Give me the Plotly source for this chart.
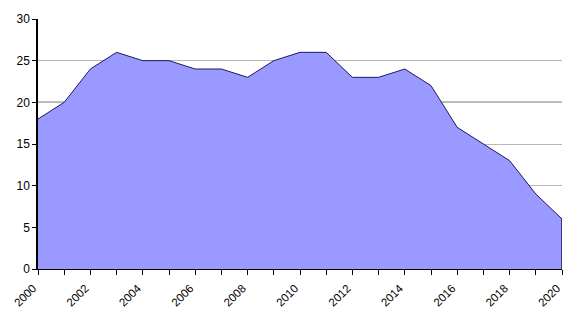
import plotly.graph_objects as go

years = list(range(2000, 2021))
values = [18, 20, 24, 26, 25, 25, 24, 24, 23, 25, 26, 26, 23, 23, 24, 22, 17, 15, 13, 9, 6]
year_labels = [str(y) if y % 2 == 0 else "" for y in years]
y_ticks = [0, 5, 10, 15, 20, 25, 30]

fig = go.Figure()
fig.add_trace(go.Scatter(
    x=years, y=values, mode="lines", fill="tozeroy",
    fillcolor="#9999FF", line=dict(color="#1a1a5e", width=1),
    hoverinfo="skip", showlegend=False,
))

# reference line at 20 (drawn below the area)
fig.add_shape(type="line", xref="paper", x0=0, x1=1, yref="y", y0=20, y1=20,
              line=dict(color="black", width=1.2), layer="below")
# right edge of the area
fig.add_shape(type="line", xref="x", yref="y", x0=years[-1], x1=years[-1],
              y0=0, y1=values[-1], line=dict(color="#1a1a5e", width=1.5))

fig.update_layout(
    width=581, height=321,
    margin=dict(l=38, r=19, t=19, b=52),
    paper_bgcolor="white", plot_bgcolor="white",
    font=dict(family="Liberation Sans, Arial, sans-serif", size=12, color="black"),
    xaxis=dict(
        range=[years[0], years[-1]], tickmode="array", tickvals=years, ticktext=year_labels,
        tickangle=-45, ticks="outside", ticklen=5, tickcolor="black", tickwidth=1,
        tickfont=dict(size=11.5),
        ticklabelshift=-5, ticklabelstandoff=2, automargin=False,
        showgrid=False, showline=True, linecolor="black", linewidth=1, zeroline=False,
    ),
    yaxis=dict(
        range=[0, 30], tickmode="array", tickvals=y_ticks, automargin=False,
        ticks="outside", ticklen=4, tickcolor="black", tickwidth=1,
        showgrid=True, gridcolor="#b8b8b8", gridwidth=1,
        showline=True, linecolor="black", linewidth=1.5, zeroline=False,
    ),
)

fig.write_html("out.html")
